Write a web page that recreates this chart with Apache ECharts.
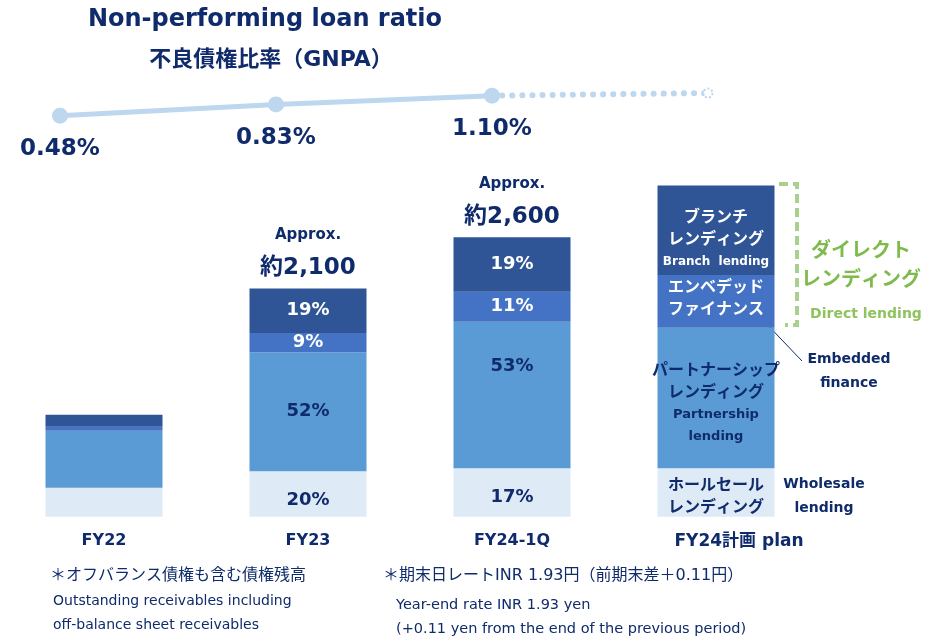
<!DOCTYPE html>
<html>
<head>
<meta charset="utf-8">
<script src="https://cdn.jsdelivr.net/npm/echarts@6/dist/echarts.min.js"></script>
<style>
  html, body { margin: 0; padding: 0; background: #fff; }
  #chart { width: 940px; height: 641px; }
</style>
</head>
<body>
<div id="chart"></div>
<script>
// Receivables by lending channel (stacked bars) with the NPL ratio line above.
const FONT = '"DejaVu Sans", "Noto Sans CJK JP", sans-serif';
const NAVY = '#0f2b6b';
const GREEN = '#7fba4c';

const categories = ['FY22', 'FY23', 'FY24-1Q', 'FY24計画 plan'];

// segment amounts (approx.)
const wholesale = [267, 417, 445, 445];
const partnership = [524, 1096, 1347, 1292];
const embedded = [37, 177, 276, 484];
const branch = [110, 408, 500, 824];

// text inside segments
const wholesaleText = ['', '20%', '17%', '{jp|ホールセール}\n{jp|レンディング}'];
const partnershipText = ['', '52%', '53%', '{jp|パートナーシップ}\n{jp|レンディング}\n{en|Partnership}\n{en|lending}'];
const embeddedText = ['', '9%', '11%', '{jpw|エンベデッド}\n{jpw|ファイナンス}'];
const branchText = ['', '19%', '19%', '{jpw|ブランチ}\n{jpw|レンディング}\n{enw|Branch  lending}'];
const totalText = ['', '約2,100', '約2,600', ''];

// NPL ratio (GNPA), %
const nplRatio = [0.48, 0.83, 1.10, null];
const nplPlan = [null, null, 1.10, 1.18];

const chart = echarts.init(document.getElementById('chart'), null, { renderer: 'canvas' });

const richBase = {
  jp: { fontFamily: FONT, fontSize: 16, fontWeight: 'bold', color: NAVY, lineHeight: 22 },
  en: { fontFamily: FONT, fontSize: 13, fontWeight: 'bold', color: NAVY, lineHeight: 22 },
  jpw: { fontFamily: FONT, fontSize: 16, fontWeight: 'bold', color: '#fff', lineHeight: 22 },
  enw: { fontFamily: FONT, fontSize: 12, fontWeight: 'bold', color: '#fff', lineHeight: 22 },
};

function segData(values, texts, color, offsets) {
  return values.map((v, i) => ({
    value: v,
    label: {
      show: texts[i] !== '',
      formatter: texts[i],
      color,
      offset: [0, (offsets && offsets[i]) || 0],
    },
  }));
}

function barSeries(name, values, texts, color, textColor, offsets) {
  return {
    name, type: 'bar', stack: 'total', barWidth: 117,
    xAxisIndex: 0, yAxisIndex: 0,
    itemStyle: { color },
    label: {
      position: 'inside',
      fontFamily: FONT, fontSize: 18, fontWeight: 'bold',
      rich: richBase,
    },
    data: segData(values, texts, textColor, offsets),
  };
}

function note(x, y, text, size, weight, color, align) {
  return {
    type: 'text', x, y,
    style: {
      text, font: (weight || '') + ' ' + size + 'px ' + FONT,
      fill: color || NAVY, align: align || 'left', verticalAlign: 'middle',
    },
  };
}

const option = {
  animation: false,
  backgroundColor: '#fff',
  title: [
    { text: 'Non-performing loan ratio', left: 260, top: 3, textAlign: 'center',
      textStyle: { fontFamily: FONT, fontSize: 24, fontWeight: 'bold', color: NAVY } },
    { text: '不良債権比率（GNPA）', left: 266, top: 44, textAlign: 'center',
      textStyle: { fontFamily: FONT, fontSize: 22, fontWeight: 'bold', color: NAVY } },
  ],
  grid: [
    { left: 2, right: 122, top: 136, bottom: 124.3 },
    { left: 60, right: 232, top: 66.6, bottom: 509.8 },
  ],
  xAxis: [
    {
      type: 'category', data: categories, gridIndex: 0,
      axisLine: { show: false }, axisTick: { show: false },
      axisLabel: {
        margin: 16,
        formatter: (v, i) => (i === 3 ? '{plan|' + v + '}' : '{c|' + v + '}'),
        rich: {
          c: { fontFamily: FONT, fontSize: 16, fontWeight: 'bold', color: NAVY },
          plan: { fontFamily: FONT, fontSize: 17, fontWeight: 'bold', color: NAVY, padding: [0, 0, 0, 46] },
        },
      },
    },
    {
      type: 'category', data: categories, gridIndex: 1, boundaryGap: false, show: false,
    },
  ],
  yAxis: [
    { type: 'value', gridIndex: 0, min: 0, max: 3500, show: false },
    { type: 'value', gridIndex: 1, min: 0, max: 2, show: false },
  ],
  series: [
    barSeries('Wholesale lending', wholesale, wholesaleText, '#deebf7', NAVY, [0, 6, 5, 4]),
    barSeries('Partnership lending', partnership, partnershipText, '#5b9bd5', NAVY, [0, 0, -29, 6]),
    barSeries('Embedded finance', embedded, embeddedText, '#4472c4', '#fff', [0, 0, 0, -3]),
    barSeries('Branch lending', branch, branchText, '#2f5597', '#fff', [0, 0, 0, 10]),
    {
      // totals above the bars
      name: 'Total', type: 'bar', stack: 'total', barWidth: 117,
      xAxisIndex: 0, yAxisIndex: 0,
      itemStyle: { color: 'transparent' },
      data: totalText.map((t) => ({
        value: 0,
        label: {
          show: t !== '', position: 'top', distance: 5,
          formatter: '{a|Approx.}\n{b|' + t + '}',
          rich: {
            a: { fontFamily: FONT, fontSize: 15, fontWeight: 'bold', color: NAVY, lineHeight: 36 },
            b: { fontFamily: FONT, fontSize: 23, fontWeight: 'bold', color: NAVY, lineHeight: 30 },
          },
        },
      })),
    },
    {
      name: 'NPL ratio', type: 'line', xAxisIndex: 1, yAxisIndex: 1,
      symbol: 'circle', symbolSize: 16,
      lineStyle: { color: '#bdd7ee', width: 5 },
      itemStyle: { color: '#bdd7ee' },
      label: {
        show: true, position: 'bottom', distance: 14,
        formatter: (p) => p.value.toFixed(2) + '%',
        fontFamily: FONT, fontSize: 23, fontWeight: 'bold', color: NAVY,
      },
      data: nplRatio,
      z: 3,
    },
    {
      name: 'NPL ratio plan', type: 'line', xAxisIndex: 1, yAxisIndex: 1,
      symbol: 'emptyCircle', symbolSize: 9,
      lineStyle: { color: '#bdd7ee', width: 6, type: [0.1, 10], cap: 'round' },
      itemStyle: { color: '#bdd7ee', borderColor: '#bdd7ee', borderWidth: 3, borderType: 'dotted' },
      data: nplPlan.map((v, i) => (i === 2 ? { value: v, symbol: 'none' } : v)),
      z: 2,
    },
  ],
  graphic: [
    // Direct lending bracket
    { type: 'polyline', shape: { points: [[779, 184], [797, 184], [797, 325], [785, 325]] },
      style: { stroke: '#a9d18e', lineWidth: 4, lineDash: [9, 5], fill: null } },
    note(861, 252, 'ダイレクト', 20, 'bold', GREEN, 'center'),
    note(861, 281, 'レンディング', 20, 'bold', GREEN, 'center'),
    note(866, 314, 'Direct lending', 14, 'bold', '#8fc35e', 'center'),
    // Embedded finance callout
    { type: 'line', shape: { x1: 760, y1: 317, x2: 802, y2: 361 }, style: { stroke: NAVY, lineWidth: 1 } },
    note(849, 359, 'Embedded', 14, 'bold', NAVY, 'center'),
    note(849, 383, 'finance', 14, 'bold', NAVY, 'center'),
    note(824, 484, 'Wholesale', 14, 'bold', NAVY, 'center'),
    note(824, 508, 'lending', 14, 'bold', NAVY, 'center'),
    // footnotes
    note(50, 576, '＊オフバランス債権も含む債権残高', 16),
    note(53, 601, 'Outstanding receivables including', 14),
    note(53, 625, 'off-balance sheet receivables', 14),
    note(383, 576, '＊期末日レートINR 1.93円（前期末差＋0.11円）', 16),
    note(396, 605, 'Year-end rate INR 1.93 yen', 14.5),
    note(396, 629, '(+0.11 yen from the end of the previous period)', 14.5),
  ],
};

chart.setOption(option);
</script>
</body>
</html>
